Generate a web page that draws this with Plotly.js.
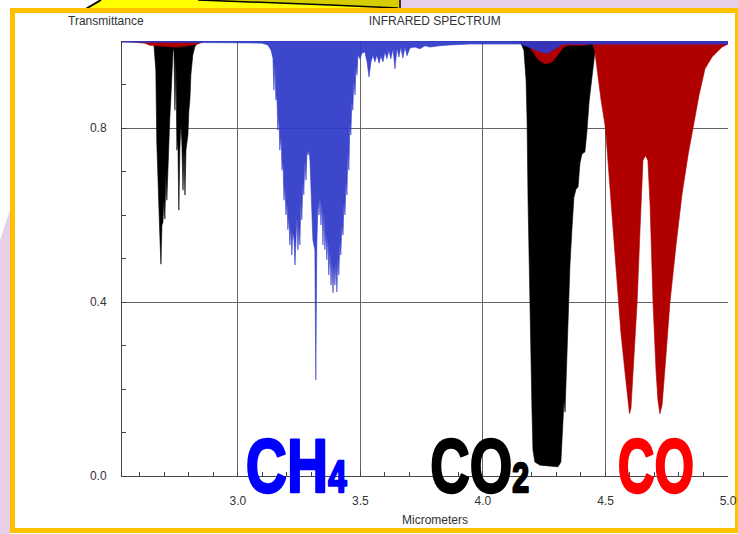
<!DOCTYPE html>
<html><head><meta charset="utf-8">
<script src="https://cdn.plot.ly/plotly-3.0.1.min.js"></script>
<style>
html,body{margin:0;padding:0;width:738px;height:534px;overflow:hidden;background:#fff}
#bg{position:absolute;left:0;top:0}
#chart{position:absolute;left:0;top:0;width:738px;height:534px}
</style></head>
<body>
<svg id="bg" width="738" height="534">
  <rect x="0" y="0" width="738" height="534" fill="#ffffff"/>
  <polygon points="0,240 10,210 10,534 0,534" fill="#E6D0E8"/>
  <rect x="400" y="0" width="338" height="9" fill="#E6D0E8"/>
  <polygon points="100,0 400,0 400,9 86,9" fill="#FFFF00"/>
  <polygon points="198,0 330,5 396,8 400,8 400,0" fill="#D6CC00"/>
  <line x1="84" y1="10" x2="101" y2="0" stroke="#000" stroke-width="2"/>
  <polyline points="198,0 330,5 398,8" stroke="#000" stroke-width="1.5" fill="none"/>
  <line x1="400" y1="0" x2="400" y2="9" stroke="#000" stroke-width="1.5"/>
  <rect x="12.5" y="10.5" width="725" height="520" fill="#ffffff" stroke="#FFC000" stroke-width="5"/>
</svg>
<div id="chart"></div>
<script>
// Wavelength (micrometers) and transmittance for each gas
const co2Wavelength = [2.527, 2.641, 2.657, 2.665, 2.669, 2.673, 2.678, 2.682, 2.686, 2.690, 2.694, 2.698, 2.702, 2.706, 2.710, 2.714, 2.718, 2.722, 2.727, 2.731, 2.735, 2.739, 2.743, 2.747, 2.751, 2.755, 2.759, 2.763, 2.767, 2.771, 2.776, 2.780, 2.784, 2.788, 2.792, 2.796, 2.800, 2.804, 2.808, 2.812, 2.816, 2.824, 2.833, 2.865,
  4.151, 4.155, 4.167, 4.176, 4.180, 4.184, 4.188, 4.192, 4.196, 4.200, 4.204, 4.212, 4.233, 4.273, 4.306, 4.318, 4.322, 4.327, 4.331, 4.335, 4.339, 4.343, 4.347, 4.351, 4.355, 4.363, 4.371, 4.380, 4.388, 4.396, 4.404, 4.416, 4.424, 4.433, 4.441, 4.449, 4.457, 4.465, 4.478, 5.0];
const co2Transmittance = [1.0, 0.998, 0.993, 0.933, 0.766, 0.680, 0.591, 0.543, 0.487, 0.577, 0.582, 0.634, 0.591, 0.690, 0.634, 0.706, 0.749, 0.821, 0.876, 0.933, 0.975, 0.982, 0.841, 0.956, 0.749, 0.772, 0.611, 0.749, 0.807, 0.772, 0.657, 0.749, 0.646, 0.749, 0.772, 0.784, 0.841, 0.864, 0.922, 0.945, 0.968, 0.986, 0.995, 1.0,
  1.0, 0.995, 0.979, 0.910, 0.818, 0.634, 0.497, 0.382, 0.267, 0.152, 0.060, 0.032, 0.025, 0.023, 0.021, 0.032, 0.083, 0.140, 0.175, 0.147, 0.221, 0.313, 0.359, 0.451, 0.485, 0.566, 0.640, 0.660, 0.664, 0.720, 0.740, 0.745, 0.790, 0.860, 0.900, 0.940, 0.975, 0.995, 1.0, 1.0];

const coWavelength = [2.527, 2.620, 2.641, 2.682, 2.743, 2.784, 2.837, 2.865, 4.100, 4.151, 4.184, 4.204, 4.224, 4.253, 4.282, 4.306, 4.327, 4.347, 4.376, 4.416, 4.437,
  4.449, 4.457, 4.465, 4.482, 4.500, 4.514, 4.531, 4.543, 4.551, 4.563, 4.580, 4.592, 4.598, 4.604, 4.616, 4.629, 4.641, 4.653, 4.663, 4.673, 4.682, 4.694, 4.706, 4.714, 4.722, 4.731, 4.747, 4.763, 4.788, 4.812, 4.837, 4.857, 4.882, 4.906, 4.935, 4.959, 4.976, 5.0];
const coTransmittance = [1.0, 0.995, 0.990, 0.988, 0.986, 0.988, 0.993, 1.0, 1.0, 0.997, 0.990, 0.975, 0.958, 0.947, 0.952, 0.968, 0.985, 0.990, 0.990, 0.990, 0.993,
  0.993, 0.975, 0.936, 0.864, 0.800, 0.692, 0.566, 0.469, 0.398, 0.329, 0.237, 0.168, 0.143, 0.156, 0.267, 0.398, 0.566, 0.726, 0.736, 0.726, 0.623, 0.398, 0.244, 0.175, 0.143, 0.163, 0.278, 0.398, 0.531, 0.646, 0.738, 0.800, 0.876, 0.936, 0.963, 0.977, 0.986, 0.993];

const ch4Wavelength = [2.527, 2.950, 3.050, 3.098, 3.122, 3.135, 3.143, 3.147, 3.151, 3.155, 3.159, 3.163, 3.167, 3.171, 3.176, 3.180, 3.184, 3.188, 3.192, 3.196, 3.200, 3.204, 3.208, 3.212, 3.216, 3.220, 3.224, 3.229, 3.233, 3.237, 3.241, 3.245, 3.249, 3.253, 3.257, 3.261, 3.265, 3.269, 3.273, 3.278, 3.282, 3.286, 3.290, 3.294, 3.298, 3.302, 3.306, 3.310, 3.314, 3.318, 3.322, 3.327, 3.331, 3.335, 3.339, 3.343, 3.347, 3.351, 3.355, 3.359, 3.363, 3.367, 3.371, 3.376, 3.380, 3.384, 3.388, 3.392, 3.396, 3.400, 3.404, 3.408, 3.412, 3.416, 3.420, 3.424, 3.429, 3.433, 3.437, 3.441, 3.445, 3.449, 3.453, 3.457, 3.461, 3.465, 3.469, 3.473, 3.478, 3.482, 3.486, 3.490, 3.498, 3.506, 3.518, 3.527, 3.535, 3.543, 3.551, 3.559, 3.567, 3.576, 3.584, 3.592, 3.600, 3.608, 3.616, 3.624, 3.633, 3.641, 3.649, 3.657, 3.665, 3.673, 3.682, 3.690, 3.702, 3.722, 3.743, 3.763, 3.784, 3.824, 3.865, 3.947, 4.151, 4.192, 4.233, 4.265, 4.298, 4.327, 4.600, 5.0];
const ch4Transmittance = [0.997, 0.996, 0.995, 0.995, 0.991, 0.979, 0.961, 0.887, 0.952, 0.864, 0.876, 0.795, 0.830, 0.749, 0.784, 0.703, 0.726, 0.634, 0.669, 0.600, 0.634, 0.566, 0.600, 0.531, 0.577, 0.508, 0.561, 0.543, 0.485, 0.547, 0.600, 0.520, 0.577, 0.531, 0.634, 0.589, 0.680, 0.646, 0.726, 0.680, 0.749, 0.738, 0.749, 0.726, 0.657, 0.634, 0.543, 0.531, 0.520, 0.221, 0.531, 0.634, 0.600, 0.646, 0.577, 0.634, 0.531, 0.611, 0.520, 0.566, 0.497, 0.554, 0.462, 0.520, 0.439, 0.497, 0.421, 0.485, 0.439, 0.492, 0.423, 0.508, 0.462, 0.543, 0.508, 0.577, 0.554, 0.634, 0.600, 0.680, 0.646, 0.749, 0.703, 0.818, 0.784, 0.864, 0.841, 0.910, 0.876, 0.945, 0.922, 0.968, 0.959, 0.972, 0.975, 0.952, 0.917, 0.952, 0.968, 0.952, 0.968, 0.949, 0.966, 0.952, 0.975, 0.959, 0.979, 0.959, 0.982, 0.936, 0.984, 0.963, 0.986, 0.961, 0.986, 0.966, 0.984, 0.986, 0.982, 0.989, 0.986, 0.989, 0.991, 0.993, 0.993, 0.985, 0.975, 0.972, 0.984, 0.993, 0.993, 0.993];

const xTickVals = [3.0, 3.5, 4.0, 4.5, 5.0];
const xTickText = ['3.0', '3.5', '4.0', '4.5', '5.0'];
const yTickVals = [0.0, 0.4, 0.8];
const yTickText = ['0.0', '0.4', '0.8'];
const gasLabels = ['CH<span style="font-size:44px">4</span>', 'CO<span style="font-size:42px">2</span>', 'CO'];
const gasLabelKeys = ['CH4', 'CO2', 'CO'];
const gasLabelX = [3.239, 3.984, 4.706];
const gasLabelColors = ['#0000FF', '#000000', '#FF0000'];
const gasLabelSqueeze = [0.75, 0.72, 0.67];

function hanging(xs, ts, color, name) {
  // close the area along the top of the chart (transmittance 1)
  const x = [xs[0]].concat(xs, [xs[xs.length - 1]]);
  const y = [1].concat(ts, [1]);
  return {type: 'scatter', mode: 'lines', name: name, x: x, y: y, fill: 'toself',
    fillcolor: color, line: {color: color, width: 0.6}, hoverinfo: 'skip'};
}

const traces = [
  hanging(co2Wavelength, co2Transmittance, '#000000', 'CO2'),
  hanging(coWavelength, coTransmittance, '#B00000', 'CO'),
  hanging(ch4Wavelength, ch4Transmittance, 'rgba(45,55,200,0.92)', 'CH4')
];

const tickFont = {family: 'Liberation Sans, Arial, sans-serif', size: 12, color: '#333'};
const annotations = gasLabels.map((t, i) => ({
  text: t, x: gasLabelX[i], xref: 'x', y: 0.024, yref: 'paper', yanchor: 'middle', xanchor: 'center',
  showarrow: false, font: {family: 'Liberation Sans Narrow, Arial Narrow, sans-serif', size: 76, weight: 'bold', color: gasLabelColors[i]}
}));
annotations.push({text: 'Transmittance', x: -0.026, xref: 'paper', y: 1.046, yref: 'paper',
  xanchor: 'center', yanchor: 'middle', showarrow: false, font: tickFont});

const layout = {
  width: 738, height: 534,
  margin: {l: 122, r: 10, t: 41, b: 58, pad: 0},
  paper_bgcolor: 'rgba(0,0,0,0)', plot_bgcolor: 'rgba(0,0,0,0)',
  showlegend: false,
  title: {text: 'INFRARED SPECTRUM', font: tickFont, x: 0.589, xref: 'container', xanchor: 'center', y: 0.9607, yref: 'container', yanchor: 'middle'},
  xaxis: {
    range: [2.527, 5.0], tickvals: xTickVals, ticktext: xTickText,
    ticks: 'inside', ticklen: 5, tickcolor: '#444', showline: true, linecolor: '#444', linewidth: 1,
    showgrid: true, gridcolor: '#666', gridwidth: 1, zeroline: false, tickfont: tickFont,
    ticklabelstandoff: 14,
    minor: {dtick: 0.1, tick0: 2.5, ticks: 'inside', ticklen: 4, tickcolor: '#444', showgrid: false},
    title: {text: 'Micrometers', font: tickFont, standoff: 8}
  },
  yaxis: {
    range: [0, 1], tickvals: yTickVals, ticktext: yTickText,
    ticks: 'inside', ticklen: 5, tickcolor: '#444', showline: true, linecolor: '#444', linewidth: 1,
    showgrid: true, gridcolor: '#666', gridwidth: 1, zeroline: false, tickfont: tickFont,
    ticklabelstandoff: 12,
    minor: {dtick: 0.1, tick0: 0, ticks: 'inside', ticklen: 4, tickcolor: '#444', showgrid: false}
  },
  annotations: annotations
};

Plotly.newPlot('chart', traces, layout, {staticPlot: true, displayModeBar: false}).then(gd => {
  const root = document.getElementById('chart');
  root.querySelectorAll('text.annotation-text').forEach(t => {
    const i = gasLabelKeys.indexOf(t.textContent);
    if (i < 0) return;
    const bb = t.getBBox();
    const cx = bb.x + bb.width / 2;
    const prev = t.getAttribute('transform') || '';
    const k = gasLabelSqueeze[i];
    t.setAttribute('transform', prev + ' translate(' + cx + ' 0) scale(' + k + ' 1) translate(' + (-cx) + ' 0)');
    t.style.stroke = gasLabelColors[i];
    t.style.strokeWidth = '2.4px';
    t.style.strokeLinejoin = 'round';
  });
  const xt = root.querySelector('text.xtitle');
  if (xt) {
    const x0 = parseFloat(xt.getAttribute('x'));
    if (!isNaN(x0)) xt.setAttribute('x', x0 + 10);
  }
});
</script>
</body></html>
